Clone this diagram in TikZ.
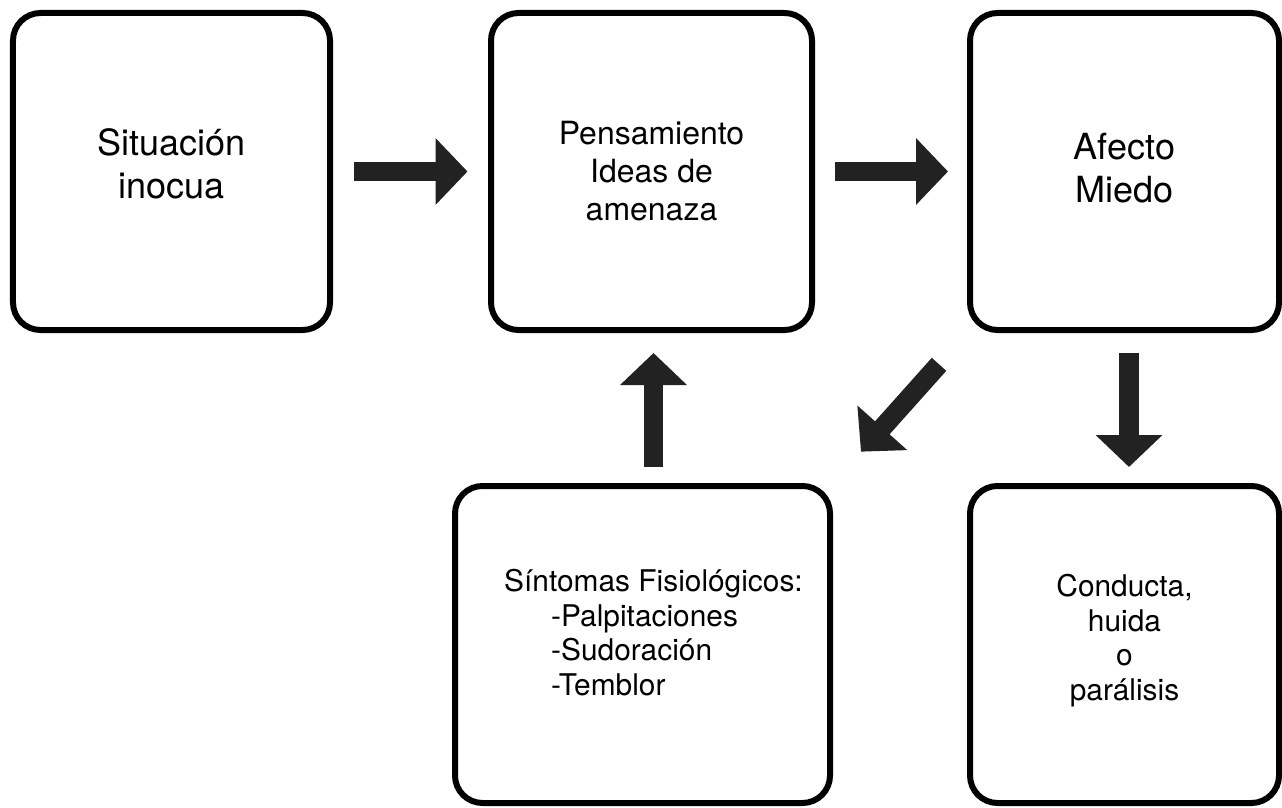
\documentclass[tikz,border=0pt]{standalone}
\usepackage{fontspec}
\setmainfont{TeX Gyre Heros}
\usetikzlibrary{positioning, arrows.meta}
\definecolor{arrowgray}{HTML}{222222}
\tikzset{
  box/.style={
    rectangle,
    rounded corners=0.55cm,
    draw=black,
    line width=0.12cm,
    minimum height=6.34cm,
    inner sep=0pt
  },
  largetext/.style={align=center, font=\fontsize{20.5}{24.5}\selectfont},
  midtext/.style={align=center, font=\fontsize{18.2}{21.6}\selectfont},
  smalltext/.style={align=center, font=\fontsize{17}{19.6}\selectfont},
  blockarrow/.style={draw=arrowgray, line width=0.39cm, -{Triangle[width=1.3cm, length=0.64cm]}},
}

\begin{document}
\begin{tikzpicture}
	\useasboundingbox (0,0) rectangle (25.64,-16.14);
	% boxes
	\node [box, minimum width=6.34cm] (sit) at (3.43,-3.43) {};
	\node [box, minimum width=6.42cm, right=3.1cm of sit] (pen) {};
	\node [box, minimum width=6.18cm, right=3.04cm of pen] (aff) {};
	\node [box, minimum width=7.5cm, below=3cm of pen, xshift=-0.18cm] (sin) {};
	\node [box, minimum width=6.18cm, below=3cm of aff] (con) {};
	
	% texts
	\node [largetext] (sit-txt) at ([yshift=0.15cm]sit.center) {Situación\\inocua};
	\node [midtext] (pen-txt) at (pen.center) {Pensamiento\\Ideas de\\amenaza};
	\node [largetext] (aff-txt) at ([yshift=0.06cm]aff.center) {Afecto\\Miedo};
	\node [smalltext, align=left] (sin-txt) at ([xshift=0.22cm, yshift=0.24cm]sin.center) {Síntomas Fisiológicos:\\\hspace*{0.94cm}-Palpitaciones\\\hspace*{0.94cm}-Sudoración\\\hspace*{0.94cm}-Temblor};
	\node [smalltext] (con-txt) at ([yshift=0.08cm]con.center) {Conducta,\\huida\\o\\parálisis};
	
	% arrows
	\draw [blockarrow, shorten <=0.41cm, shorten >=0.41cm] (sit) -- (pen);
	\draw [blockarrow, shorten <=0.4cm, shorten >=0.38cm] (pen) -- (aff);
	\draw [blockarrow, shorten <=0.4cm, shorten >=0.32cm] ([xshift=0.09cm]aff.south) -- ([xshift=0.09cm]con.north);
	\draw [blockarrow, shorten <=0.84cm, shorten >=0.84cm] (aff.south west) -- (sin.north east);
	\draw [blockarrow, shorten <=0.32cm, shorten >=0.4cm] ([xshift=0.04cm]pen.south |- sin.north) -- ([xshift=0.04cm]pen.south);
\end{tikzpicture}
\end{document}
